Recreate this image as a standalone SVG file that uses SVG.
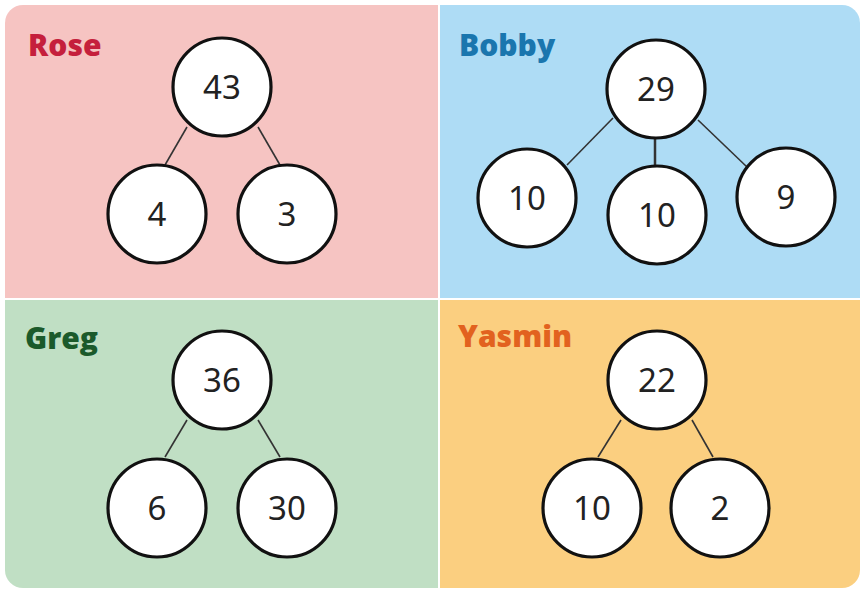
<svg xmlns="http://www.w3.org/2000/svg" width="862" height="590" viewBox="0 0 862 590">
<style>
.node circle{fill:#fff;stroke:#111;stroke-width:3.2}
.node text{font-family:"Noto Sans","Open Sans",sans-serif;font-size:33px;fill:#222;text-anchor:middle}
.lbl{font-family:"Open Sans","Noto Sans",sans-serif;font-size:30px;font-weight:800}
#connectors line{stroke:#333;stroke-width:1.6}
</style>
<defs>
<clipPath id="card"><rect x="5" y="5" width="855" height="583" rx="18"/></clipPath>
</defs>
<rect width="862" height="590" fill="#fff"/>
<g clip-path="url(#card)">
<rect x="5" y="5" width="433" height="293" fill="#f6c4c2"/>
<rect x="440" y="5" width="420" height="293" fill="#aedcf5"/>
<rect x="5" y="300" width="433" height="288" fill="#c0dfc4"/>
<rect x="440" y="300" width="420" height="288" fill="#fbcf80"/>
</g>
<text class="lbl" x="28" y="56" fill="#c51f3c">Rose</text>
<text class="lbl" x="459" y="56" fill="#1a76ae">Bobby</text>
<text class="lbl" x="25" y="349" fill="#1b5a2b">Greg</text>
<text class="lbl" x="458" y="347" fill="#e2621f">Yasmin</text>
<g id="connectors">
<line x1="187" y1="127" x2="165" y2="165"/>
<line x1="258" y1="127" x2="280" y2="165"/>
<line x1="613" y1="118" x2="567" y2="165"/>
<line x1="655" y1="138" x2="655" y2="167" style="stroke-width:2.5"/>
<line x1="698" y1="120" x2="747" y2="167"/>
<line x1="187" y1="420" x2="165" y2="457"/>
<line x1="258" y1="420" x2="280" y2="457"/>
<line x1="621" y1="420" x2="598" y2="457"/>
<line x1="692" y1="420" x2="713" y2="457"/>
</g>
<g id="rose-43" class="node"><circle cx="222" cy="87" r="49"/><text x="222" y="99">43</text></g>
<g id="rose-4" class="node"><circle cx="157" cy="214" r="49"/><text x="157" y="226">4</text></g>
<g id="rose-3" class="node"><circle cx="287" cy="214" r="49"/><text x="287" y="226">3</text></g>
<g id="bobby-29" class="node"><circle cx="656" cy="89" r="49"/><text x="656" y="101">29</text></g>
<g id="bobby-10a" class="node"><circle cx="527" cy="198" r="49"/><text x="527" y="210">10</text></g>
<g id="bobby-10b" class="node"><circle cx="657" cy="215" r="49"/><text x="657" y="227">10</text></g>
<g id="bobby-9" class="node"><circle cx="786" cy="197" r="49"/><text x="786" y="209">9</text></g>
<g id="greg-36" class="node"><circle cx="222" cy="380" r="49"/><text x="222" y="392">36</text></g>
<g id="greg-6" class="node"><circle cx="157" cy="508" r="49"/><text x="157" y="520">6</text></g>
<g id="greg-30" class="node"><circle cx="287" cy="508" r="49"/><text x="287" y="520">30</text></g>
<g id="yasmin-22" class="node"><circle cx="657" cy="380" r="49"/><text x="657" y="392">22</text></g>
<g id="yasmin-10" class="node"><circle cx="592" cy="508" r="49"/><text x="592" y="520">10</text></g>
<g id="yasmin-2" class="node"><circle cx="720" cy="508" r="49"/><text x="720" y="520">2</text></g>
</svg>
